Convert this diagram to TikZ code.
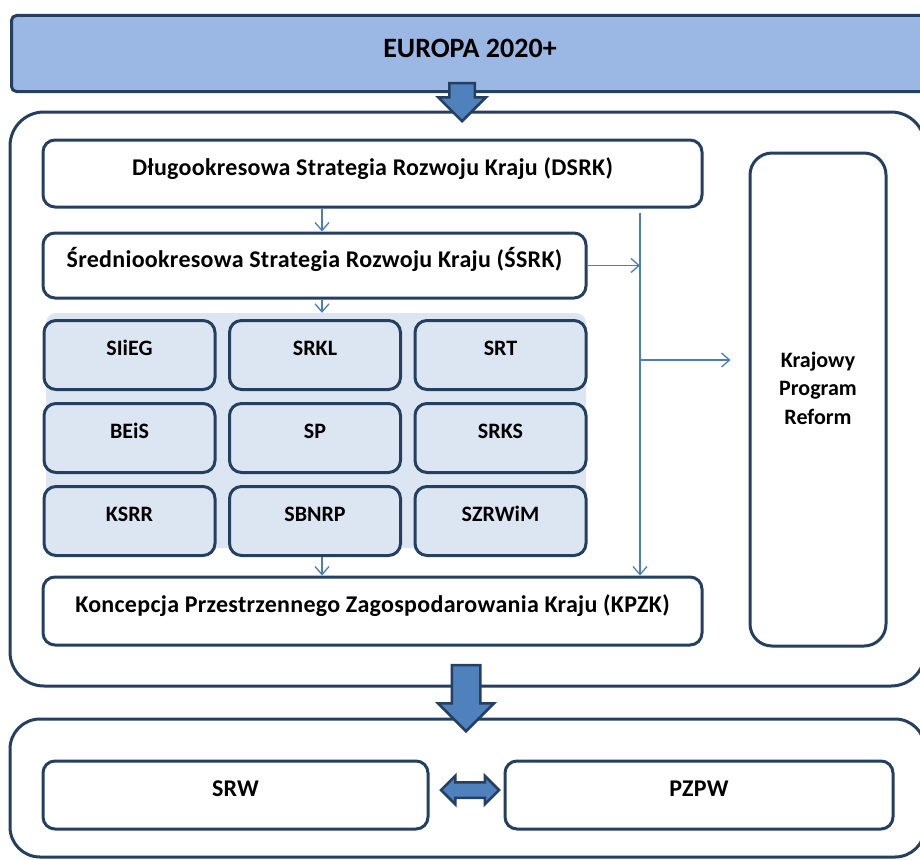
\documentclass[tikz,border=0pt]{standalone}
\usepackage{fontspec}
\setmainfont{Carlito}
\usetikzlibrary{shapes.arrows,arrows.meta}

\definecolor{navy}{RGB}{36,63,96}
\definecolor{banner}{RGB}{155,183,227}
\definecolor{panel}{RGB}{220,230,242}
\definecolor{fatblue}{RGB}{79,129,189}
\definecolor{linkblue}{RGB}{74,126,187}

\tikzset{
  box/.style={draw=navy, line width=3pt, rounded corners=12pt, fill=white, inner sep=0pt,
    font=\bfseries\fontsize{24}{28}\selectfont\addfontfeature{LetterSpace=1.2},
    text height=18pt, text depth=14.5pt},
  cell/.style={box, fill=panel, minimum width=171pt, minimum height=69pt,
    font=\bfseries\fontsize{22}{26}\selectfont, text height=16pt, text depth=15.8pt},
  frame/.style={draw=navy, line width=3pt, rounded corners=34pt},
  link/.style={draw=linkblue, line width=1.3pt, -{Straight Barb[length=8pt,width=14pt]}},
  fatarrow/.style={single arrow, draw=navy, fill=fatblue, line width=2.5pt, anchor=tip,
    inner sep=0pt, text depth=0pt, rotate=-90, single arrow tip angle=90},
}

\begin{document}
\begin{tikzpicture}[x=1pt, y=-1pt]
\useasboundingbox (0,0) rectangle (920,859);

% top banner and frames
\node [draw=navy, line width=3pt, fill=banner, rounded corners=5pt, minimum width=930pt,
  minimum height=76pt, anchor=north west, inner sep=0pt] (europa) at (10,14) {};
\node [font=\bfseries\fontsize{28}{32}\selectfont] (europatext) at (470,48) {EUROPA 2020+};
\draw [frame] (10,112) rectangle (925,686);
\draw [frame, rounded corners=30pt] (10,719) rectangle (925,857);

% national strategies
\node [box, minimum width=659pt, minimum height=67pt] (dsrk) at (372.5,173.5)
  {Długookresowa Strategia Rozwoju Kraju (DSRK)};
\node [box, minimum width=543pt, minimum height=65pt] (ssrk) at (314.5,265.5)
  {Średniookresowa Strategia Rozwoju Kraju (ŚSRK)};
\node [fill=panel, rounded corners=10pt, minimum width=540pt, minimum height=235pt,
  inner sep=0pt] (grid) at (316,430.5) {};

\node [cell] (slieg) at (129.5,355) {SIiEG};
\node [cell] (srkl) at (315,355) {SRKL};
\node [cell] (srt) at (500.5,355) {SRT};
\node [cell] (beis) at (129.5,438) {BEiS};
\node [cell] (sp) at (315,438) {SP};
\node [cell] (srks) at (500.5,438) {SRKS};
\node [cell] (ksrr) at (129.5,521) {KSRR};
\node [cell] (sbnrp) at (315,521) {SBNRP};
\node [cell] (szrwim) at (500.5,521) {SZRWiM};

\node [box, minimum width=659pt, minimum height=68pt] (kpzk) at (372.5,611)
  {Koncepcja Przestrzennego Zagospodarowania Kraju (KPZK)};

\node [box, rounded corners=22pt, minimum width=136pt, minimum height=493pt,
  text height=0pt, text depth=0pt] (kpr) at (818,399.5) {};
\node [font=\bfseries\fontsize{22}{28.5}\selectfont, align=center] (kprtext) at (818,388)
  {Krajowy\\Program\\Reform};

% regional level
\node [box, minimum width=385pt, minimum height=68pt] (srw) at (235.5,795) {SRW};
\node [box, minimum width=388pt, minimum height=68pt] (pzpw) at (699,795) {PZPW};

% thin connectors
\coordinate (axis) at (322,0);
\coordinate (trunk) at (640,0);
\draw [link] (dsrk.south -| axis) -- (ssrk.north -| axis);
\draw [link] (ssrk.south -| axis) -- (grid.north -| axis);
\draw [link] (sbnrp.south -| axis) -- (kpzk.north -| axis);
\draw [link] ([yshift=-4pt]dsrk.south -| trunk) -- (kpzk.north -| trunk);
\draw [link] (ssrk.east) -- (ssrk.east -| trunk);
\coordinate (kprin) at (640,360);
\draw [link, shorten >=18pt] (kprin) -- (kprin -| kpr.west);

% block arrows
\node [fatarrow, minimum height=38pt, text height=23pt, single arrow head extend=11pt]
  (down1) at (462,123) {};
\node [fatarrow, minimum height=66pt, text height=26pt, single arrow head extend=13.5pt]
  (down2) at (466,733) {};
\node [double arrow, draw=navy, fill=fatblue, line width=2.5pt, inner sep=0pt,
  minimum height=58pt, text height=13pt, text depth=0pt, double arrow head extend=6.5pt,
  double arrow tip angle=90] (both) at (470,790) {};
\end{tikzpicture}
\end{document}
